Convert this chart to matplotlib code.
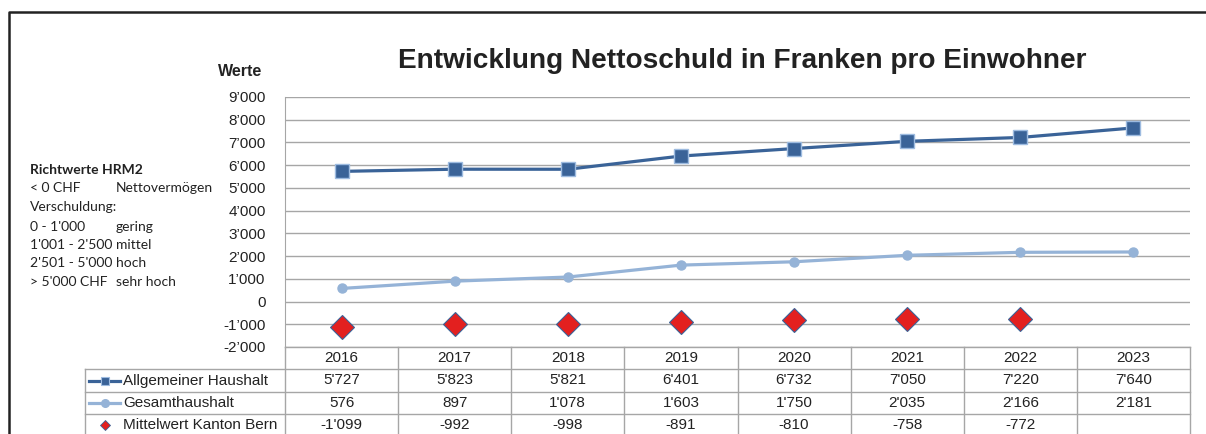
import matplotlib
matplotlib.use("Agg")
import matplotlib.pyplot as plt
import matplotlib.lines as mlines
from matplotlib.transforms import blended_transform_factory

plt.rcParams['font.family'] = ['Liberation Sans', 'DejaVu Sans']

# data
years = ['2016', '2017', '2018', '2019', '2020', '2021', '2022', '2023']
allgemein = [5727, 5823, 5821, 6401, 6732, 7050, 7220, 7640]
gesamt = [576, 897, 1078, 1603, 1750, 2035, 2166, 2181]
mittelwert = [-1099, -992, -998, -891, -810, -758, -772, None]
series_names = ['Allgemeiner Haushalt', 'Gesamthaushalt', 'Mittelwert Kanton Bern']
yticks = list(range(-2000, 9001, 1000))

richtwerte = [('< 0 CHF', 'Nettovermögen'),
              ('Verschuldung:', ''),
              ('0 - 1\'000', 'gering'),
              ('1\'001 - 2\'500', 'mittel'),
              ('2\'501 - 5\'000', 'hoch'),
              ('> 5\'000 CHF', 'sehr hoch')]

W, H = 1206, 434
def fx(x):
    return x / W
def fy(y):
    return 1 - y / H

dark = '#3A6398'
dark_edge = '#9DBBE0'
light = '#95B3D7'
red = '#E3201F'
grid = '#A6A6A6'
tline = '#A6A6A6'
txt = '#222222'

fig = plt.figure(figsize=(W / 100, H / 100), dpi=100)

ax = fig.add_axes([fx(285), fy(347), fx(1190) - fx(285), fy(97) - fy(347)])
x = list(range(len(years)))
ax.plot(x, allgemein, color=dark, lw=2.3, marker='s', ms=10,
        mfc=dark, mec=dark_edge, mew=1, zorder=4)
ax.plot(x, gesamt, color=light, lw=2.3, marker='o', ms=6.5,
        mfc=light, mec=light, zorder=4)
mx = [i for i, v in zip(x, mittelwert) if v is not None]
my = [v for v in mittelwert if v is not None]
ax.plot(mx, my, ls='none', marker='D', ms=12, mfc=red, mec=dark, mew=0.8, zorder=4)

ax.set_xlim(-0.5, len(years) - 0.5)
ax.set_ylim(-2000, 9000)
ax.set_yticks(yticks)
ax.set_yticklabels([f"{v:,}".replace(',', '\u2019') for v in yticks], fontsize=11, color=txt)
ax.set_xticks([])
ax.tick_params(axis='y', length=0, pad=14)
ax.grid(axis='y', color=grid, lw=1)
for s in ['top', 'right', 'bottom']:
    ax.spines[s].set_visible(False)
ax.spines['left'].set_color(grid)
ax.set_axisbelow(True)

# title and axis title
fig.text(fx(742), fy(61), 'Entwicklung Nettoschuld in Franken pro Einwohner',
         ha='center', va='center', fontsize=20.2, fontweight='bold', color=txt)
fig.text(fx(240), fy(72), 'Werte', ha='center', va='center', fontsize=11.5,
         fontweight='bold', color=txt)

# Richtwerte text block
fig.text(fx(30), fy(170), 'Richtwerte HRM2', ha='left', va='center', fontsize=10,
         fontweight='bold', family=['Lato', 'DejaVu Sans'], color=txt)
row_y = [188, 207, 227, 245, 263, 282]
for (a, b), yy in zip(richtwerte, row_y):
    fig.text(fx(30), fy(yy), a, ha='left', va='center', fontsize=10,
             family=['Lato', 'DejaVu Sans'], color=txt)
    if b:
        fig.text(fx(116), fy(yy), b, ha='left', va='center', fontsize=10,
                 family=['Lato', 'DejaVu Sans'], color=txt)

# data table below the chart
tr = blended_transform_factory(ax.transData, fig.transFigure)
def hline(x0, x1, y):
    fig.add_artist(mlines.Line2D([fx(x0), fx(x1)], [fy(y), fy(y)], color=tline, lw=1))
def vline_data(xd, y0, y1):
    fig.add_artist(mlines.Line2D([xd, xd], [fy(y0), fy(y1)], color=tline, lw=1, transform=tr))

hline(285, 1190, 347)
for yy in [369, 392, 414, 436]:
    hline(85, 1190, yy)
for i in range(len(years) + 1):
    vline_data(i - 0.5, 347, 440)
fig.add_artist(mlines.Line2D([fx(85), fx(85)], [fy(369), fy(440)], color=tline, lw=1))

head_y, rows_y = 358, [380.5, 403, 425]
for i, yr in enumerate(years):
    fig.text(i, fy(head_y), yr, transform=tr, ha='center', va='center', fontsize=11, color=txt)
def fmt(v):
    return '' if v is None else f"{v:,}".replace(',', "'")
for vals, yy in zip([allgemein, gesamt, mittelwert], rows_y):
    for i, v in enumerate(vals):
        fig.text(i, fy(yy), fmt(v), transform=tr, ha='center', va='center',
                 fontsize=11, color=txt)

# legend keys in the first column
fig.add_artist(mlines.Line2D([fx(89), fx(120)], [fy(rows_y[0])] * 2, color=dark, lw=2.3))
fig.add_artist(mlines.Line2D([fx(104.5)], [fy(rows_y[0])], marker='s', ms=6, mfc=dark,
                             mec=dark_edge, mew=0.8, ls='none'))
fig.add_artist(mlines.Line2D([fx(89), fx(120)], [fy(rows_y[1])] * 2, color=light, lw=2.3))
fig.add_artist(mlines.Line2D([fx(104.5)], [fy(rows_y[1])], marker='o', ms=5.5, mfc=light,
                             mec=light, ls='none'))
fig.add_artist(mlines.Line2D([fx(105)], [fy(rows_y[2])], marker='D', ms=5.5, mfc=red,
                             mec=dark, mew=0.6, ls='none'))
for name, yy in zip(series_names, rows_y):
    fig.text(fx(123), fy(yy), name, ha='left', va='center', fontsize=11, color=txt)

# outer frame
fig.add_artist(mlines.Line2D([fx(9), fx(9), fx(W + 5)], [fy(H + 5), fy(12), fy(12)],
                             color=txt, lw=1.8))

fig.savefig('out.png', dpi=100, facecolor='white')
